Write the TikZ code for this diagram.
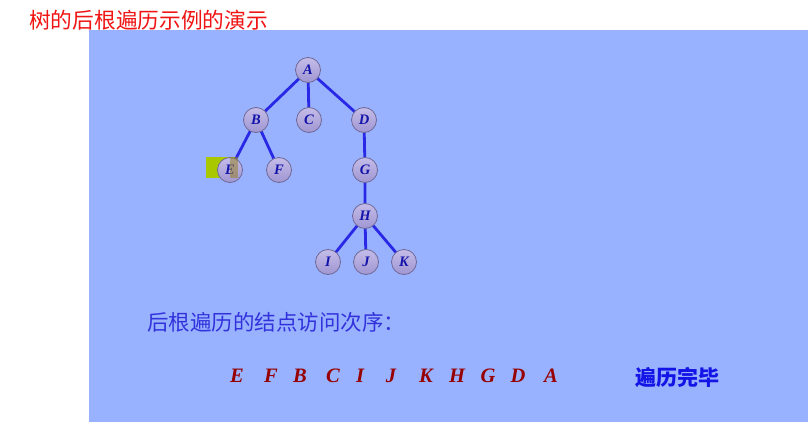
\documentclass[tikz,border=0pt]{standalone}
\usepackage{fontspec}
\setmainfont{Liberation Serif}
\newfontfamily\cjk{Noto Sans CJK SC}
\definecolor{panel}{RGB}{153,178,255}
\definecolor{edgeblue}{RGB}{40,40,230}
\definecolor{nodefill}{RGB}{160,150,210}
\definecolor{nodetop}{RGB}{196,188,232}
\definecolor{nodeline}{RGB}{110,104,150}
\definecolor{letterblue}{RGB}{20,20,170}
\definecolor{seqred}{RGB}{150,0,0}
\definecolor{titlered}{RGB}{240,20,20}
\definecolor{labelblue}{RGB}{50,50,220}
\definecolor{doneblue}{RGB}{20,20,230}
\definecolor{cursor}{RGB}{170,200,0}
\definecolor{cursordark}{RGB}{150,130,40}
\tikzset{
  tnode/.style={circle, minimum size=25pt, inner sep=0pt, draw=nodeline, line width=0.8pt,
    top color=nodetop, bottom color=nodefill,
    font=\fontsize{14.5}{14.5}\selectfont\bfseries\itshape, text=letterblue},
  tedge/.style={edgeblue, line width=2.8pt},
  seq/.style={font=\fontsize{20.5}{20.5}\selectfont\bfseries\itshape, text=seqred, inner sep=0pt}
}
\begin{document}
\begin{tikzpicture}[x=1pt,y=-1pt]
\useasboundingbox (0,0) rectangle (808,436);
\fill[white] (0,0) rectangle (808,436);
\fill[panel] (89,30) rectangle (808,422);
\node[font=\cjk\fontsize{21.7}{21.7}\selectfont, text=titlered, anchor=west, inner sep=0pt] (title) at (29,20) {树的后根遍历示例的演示};
% cursor behind E
\fill[cursor] (206,157) rectangle (236,178);
% edges
\coordinate (pA) at (308,70);
\coordinate (pB) at (256,120);
\coordinate (pC) at (309,120);
\coordinate (pD) at (364,120);
\coordinate (pE) at (230,170);
\coordinate (pF) at (279,170);
\coordinate (pG) at (365,170);
\coordinate (pH) at (365,216);
\coordinate (pI) at (328,262);
\coordinate (pJ) at (366,262);
\coordinate (pK) at (404,262);
\draw[tedge] (pA) -- (pB) (pA) -- (pC) (pA) -- (pD) (pB) -- (pE) (pB) -- (pF)
  (pD) -- (pG) (pG) -- (pH) (pH) -- (pI) (pH) -- (pJ) (pH) -- (pK);
\node[tnode] (A) at (pA) {A};
\node[tnode] (B) at (pB) {B};
\node[tnode] (C) at (pC) {C};
\node[tnode] (D) at (pD) {D};
\node[tnode] (E) at (pE) {E};
\node[tnode] (F) at (pF) {F};
\node[tnode] (G) at (pG) {G};
\node[tnode] (H) at (pH) {H};
\node[tnode] (I) at (pI) {I};
\node[tnode] (J) at (pJ) {J};
\node[tnode] (K) at (pK) {K};
\fill[cursordark, opacity=0.55] (230,157) rectangle (238,178);
\node[font=\cjk\fontsize{21.5}{21.5}\selectfont, text=labelblue, anchor=west, inner sep=0pt] (lab) at (147,322) {后根遍历的结点访问次序：};
\node[seq] (s1) at (237,376) {E};
\node[seq] (s2) at (271,376) {F};
\node[seq] (s3) at (300,376) {B};
\node[seq] (s4) at (333,376) {C};
\node[seq] (s5) at (360,376) {I};
\node[seq] (s6) at (391,376) {J};
\node[seq] (s7) at (426,376) {K};
\node[seq] (s8) at (457,376) {H};
\node[seq] (s9) at (488,376) {G};
\node[seq] (s10) at (518,376) {D};
\node[seq] (s11) at (551,376) {A};
\node[font=\cjk\bfseries\fontsize{21}{21}\selectfont, text=doneblue, anchor=west, inner sep=0pt] (done) at (635,377) {遍历完毕};
\end{tikzpicture}
\end{document}
